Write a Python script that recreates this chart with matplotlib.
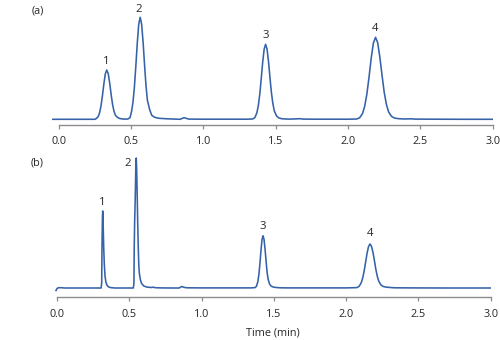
import matplotlib
matplotlib.use("Agg")
import matplotlib.pyplot as plt

plt.rcParams['font.family'] = ['Open Sans', 'DejaVu Sans']

# ---- data (signal in arbitrary units) ----
a_time = [-0.045, 0.0, 0.1, 0.2, 0.25,
          0.257, 0.272, 0.282, 0.292, 0.302, 0.312, 0.322, 0.332, 0.342, 0.352, 0.362,
          0.372, 0.382, 0.392, 0.407, 0.422, 0.442, 0.46,
          0.478, 0.493, 0.503, 0.513, 0.523, 0.533, 0.543, 0.553, 0.563, 0.573, 0.583,
          0.593, 0.603, 0.613, 0.628, 0.643, 0.663, 0.693, 0.75,
          0.84, 0.855, 0.866, 0.88, 0.9, 1.0, 1.2, 1.3,
          1.341, 1.356, 1.370, 1.380, 1.390, 1.400, 1.410, 1.420, 1.430, 1.440, 1.450,
          1.460, 1.470, 1.480, 1.490, 1.505, 1.520, 1.540, 1.570, 1.60, 1.67, 1.69, 1.8, 2.0,
          2.060, 2.080, 2.100, 2.115, 2.130, 2.145, 2.160, 2.175, 2.190, 2.205, 2.220,
          2.235, 2.250, 2.265, 2.280, 2.300, 2.320, 2.350, 2.390, 2.44, 2.46, 2.6, 2.8, 3.0]
a_signal = [0.0, 0.0, 0.0, 0.0, 0.0,
            0.5, 2.5, 6.2, 13.2, 23.4, 35.4, 45.4, 49.3, 45.8, 36.5, 25.0,
            15.0, 8.0, 4.0, 1.8, 0.8, 0.3, 0.2,
            0.3, 1.7, 7.5, 16.7, 32.1, 53.2, 76.4, 94.9, 102.0, 95.2, 77.5,
            55.0, 34.0, 19.0, 10.0, 4.0, 2.0, 1.0, 0.5,
            0.0, 1.0, 1.6, 1.0, 0.2, 0.1, 0.1, 0.1,
            0.3, 1.7, 6.6, 13.9, 25.4, 40.8, 57.2, 70.1, 75.0, 70.3, 58.0,
            42.0, 27.0, 16.0, 8.5, 3.5, 1.5, 0.6, 0.3, 0.2, 0.6, 0.2, 0.1, 0.1,
            0.3, 1.5, 5.7, 12.9, 25.1, 42.1, 61.0, 76.1, 82.0, 76.5, 62.0,
            44.0, 27.0, 15.0, 7.5, 3.0, 1.3, 0.6, 0.3, 0.5, 0.2, 0.1, 0.0, 0.0]

b_time = [-0.007, 0.0, 0.01, 0.03, 0.05, 0.15, 0.25, 0.305,
          0.309, 0.311, 0.314, 0.316, 0.318, 0.320, 0.323, 0.327, 0.332, 0.338, 0.345,
          0.355, 0.370, 0.40, 0.45, 0.528,
          0.532, 0.534, 0.537, 0.541, 0.545, 0.548, 0.551, 0.555, 0.558, 0.562, 0.566,
          0.570, 0.577, 0.585, 0.60, 0.62, 0.65, 0.665, 0.68, 0.72, 0.80,
          0.845, 0.862, 0.88, 0.9, 1.0, 1.2, 1.34,
          1.370, 1.380, 1.390, 1.397, 1.404, 1.411, 1.418, 1.425, 1.432, 1.439, 1.446,
          1.453, 1.460, 1.470, 1.480, 1.495, 1.515, 1.545, 1.60, 1.8, 2.0,
          2.075, 2.090, 2.105, 2.115, 2.125, 2.135, 2.145, 2.155, 2.165, 2.175, 2.185,
          2.195, 2.205, 2.215, 2.225, 2.240, 2.255, 2.275, 2.305, 2.335, 2.45, 2.7, 3.0]
b_signal = [-2.5, -0.5, 0.3, 0.3, 0.0, 0.0, 0.0, 0.0,
            5.0, 40.0, 70.0, 77.0, 72.0, 58.0, 40.0, 24.0, 12.0, 6.0, 3.0,
            1.2, 0.4, 0.0, 0.0, 0.0,
            5.0, 40.0, 66.0, 90.0, 120.0, 130.0, 118.0, 90.0, 66.0, 40.0, 22.0,
            14.0, 8.0, 4.5, 2.0, 1.0, 0.5, 0.8, 0.3, 0.1, 0.0,
            0.0, 1.5, 0.6, 0.2, 0.1, 0.1, 0.1,
            0.4, 1.8, 6.9, 14.3, 25.1, 37.9, 48.3, 52.3, 48.6, 39.0, 27.0,
            16.0, 9.0, 4.0, 2.0, 1.0, 0.5, 0.2, 0.1, 0.1, 0.1,
            0.4, 1.7, 5.4, 10.3, 17.3, 26.1, 34.9, 41.5, 44.0, 41.8, 36.0,
            28.0, 19.0, 12.0, 7.0, 3.2, 1.6, 0.9, 0.5, 0.2, 0.1, 0.0, 0.0]

peak_labels = ['1', '2', '3', '4']
a_peak_times = [0.332, 0.553, 1.430, 2.190]
a_peak_heights = [49.3, 102.0, 75.0, 82.0]
b_peak_times = [0.316, 0.548, 1.425, 2.165]
b_peak_heights = [77.0, 130.0, 52.3, 44.0]

x_ticks = [0.0, 0.5, 1.0, 1.5, 2.0, 2.5, 3.0]
x_ticklabels = ['0.0', '0.5', '1.0', '1.5', '2.0', '2.5', '3.0']
panel_names = ['(a)', '(b)']
x_label = 'Time (min)'

# ---- style ----
LINE = '#3562a8'
SPINE = '#8c8c8c'
TXT = '#262626'
FS = 7.8

W, H = 500, 340
fig = plt.figure(figsize=(W / 100, H / 100), dpi=100)


def make_axes(left_px, right_px, top_px, bottom_px):
    return fig.add_axes([left_px / W, 1 - bottom_px / H,
                         (right_px - left_px) / W, (bottom_px - top_px) / H])


ax_a = make_axes(51.5, 492.7, 10.0, 124.7)
ax_b = make_axes(49.8, 490.7, 150.0, 296.7)

ax_a.set_ylim(-5.4, 109.3)
ax_b.set_ylim(-8.7, 138.0)

for ax, pad in ((ax_a, 5.0), (ax_b, 6.3)):
    ax.set_facecolor('none')
    ax.set_xlim(-0.05, 3.0)
    for s in ('top', 'right', 'left'):
        ax.spines[s].set_visible(False)
    ax.spines['bottom'].set_color(SPINE)
    ax.spines['bottom'].set_linewidth(1.0)
    ax.spines['bottom'].set_bounds(0.0, 3.0)
    ax.set_yticks([])
    ax.set_xticks(x_ticks)
    ax.set_xticklabels(x_ticklabels)
    ax.tick_params(axis='x', direction='out', length=2.8, width=0.9,
                   color=SPINE, labelsize=FS, labelcolor=TXT, pad=pad)

ax_a.plot(a_time, a_signal, color=LINE, lw=1.15, solid_joinstyle='round')
ax_b.plot(b_time, b_signal, color=LINE, lw=1.15, solid_joinstyle='round')

# peak numbers
a_offsets = [(0, 6.3), (0, 5.3), (0, 6.0), (0, 6.5)]
b_offsets = [(0, 6.0), (-6.0, -4.3), (0, 6.5), (0, 7.7)]
for ax, times, heights, offs in ((ax_a, a_peak_times, a_peak_heights, a_offsets),
                                 (ax_b, b_peak_times, b_peak_heights, b_offsets)):
    for lab, t, h, off in zip(peak_labels, times, heights, offs):
        ax.annotate(lab, (t, h), xytext=off, textcoords='offset points',
                    ha='center', va='center', fontsize=FS + 0.4, color=TXT,
                    annotation_clip=False)

fig.text(37.5 / W, 1 - 11 / H, panel_names[0], ha='center', va='center',
         fontsize=FS, color=TXT)
fig.text(37.5 / W, 1 - 163 / H, panel_names[1], ha='center', va='center',
         fontsize=FS, color=TXT)
fig.text(273 / W, 1 - 333 / H, x_label, ha='center', va='center',
         fontsize=FS, color=TXT)

fig.savefig('out.png', dpi=100, facecolor='white')
